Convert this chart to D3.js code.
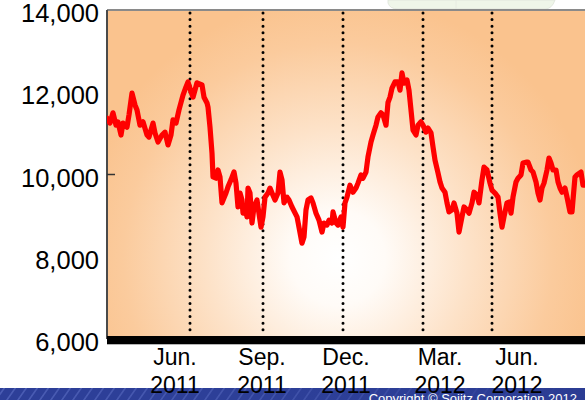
<!DOCTYPE html>
<html>
<head>
<meta charset="utf-8">
<script src="https://cdn.jsdelivr.net/npm/d3@7"></script>
<style>
  html, body { margin: 0; padding: 0; background: #ffffff; overflow: hidden; }
  svg { display: block; }
</style>
</head>
<body>
<svg id="chart" width="585" height="400"></svg>
<script>
// Daily closing index, trading-session number vs. level
const sessions = [
  0, 1.5, 3, 4.5, 5.5, 7, 8, 10, 11, 12.5, 14, 15, 16.5, 18, 20, 21, 23, 24, 25.5, 27.5,
  29, 30.5, 32, 33, 34.5, 36, 38, 39.5, 40.5, 42, 43, 45, 47.5, 48.5, 50, 50.5, 51.5, 52.5, 53, 54.5,
  55.5, 56.5, 57.5, 59.5, 60.5, 62, 63.5, 64.5, 65.5, 66.5, 67.5, 68, 69, 70, 70.5, 71.5, 72.5, 73.5, 75, 75.5,
  77, 78, 79, 80.5, 81.5, 82.5, 84, 85.5, 86.5, 87.5, 88.5, 90, 91, 92.5, 95, 96, 97.5, 98.5, 99.5, 100.5,
  102, 103, 104.5, 106, 107.5, 108.5, 110, 111, 112.5, 113, 114.5, 115.5, 117, 118, 119, 120, 121.5, 123, 124.5, 125.5,
  127, 128, 129.5, 130.5, 132, 133, 134.5, 135.5, 137, 138, 139.5, 140.5, 141.5, 142.5, 144, 145.5, 146.5, 147.5, 148.5, 150,
  151, 152, 153, 154.5, 155.5, 157, 158, 159.5, 160.5, 162, 163, 164, 165.5, 166.5, 167.5, 169, 170, 171, 172.5, 173.5,
  175, 176, 177.5, 178.5, 180, 181, 182.5, 183.5, 185, 186, 187.5, 188.5, 190, 191.5, 192.5, 194, 195.5, 196.5, 197.5, 198.5,
  200, 201, 202, 203, 204.5, 205.5, 207, 208, 209.5, 210.5, 212, 213, 214.5, 215.5, 216.5, 217.5, 218.5, 220, 221, 222,
  223, 224.5, 225.5, 226.5, 227.5, 229, 230, 231.5, 232.5, 233, 234, 235, 237, 238, 239, 241
];
const prices = [
  11370, 11250, 11500, 11200, 11280, 10960, 11250, 11150, 11450, 11980, 11690, 11570, 11200, 11280, 10960, 10910, 11250, 11010, 10790, 10960,
  11030, 10720, 10960, 11330, 11250, 11570, 11930, 12130, 12250, 12010, 11880, 12230, 12180, 11880, 11740, 11640, 11150, 10520, 9940, 9910,
  10110, 9940, 9310, 9550, 9700, 9870, 10060, 9790, 9210, 9550, 9380, 9060, 9210, 8970, 9670, 9550, 8820, 9210, 9380, 9210,
  8720, 8970, 9450, 9550, 9670, 9550, 9380, 9550, 10060, 9870, 9310, 9450, 9380, 9210, 8970, 8720, 8330, 8480, 9140, 9380,
  9430, 9310, 9060, 8890, 8600, 8820, 8770, 8890, 8820, 9090, 8820, 8770, 8970, 8720, 9310, 9450, 9740, 9570, 9670, 9790,
  9990, 9910, 10060, 10430, 10790, 10960, 11200, 11400, 11500, 11450, 11200, 11750, 11880, 12100, 12250, 12250, 12050, 12470, 12220, 12300,
  12050, 11570, 11080, 10960, 11200, 11280, 11200, 11030, 11130, 11010, 10670, 10350, 10040, 9820, 9670, 9570, 9310, 9090, 9140, 9310,
  9060, 8600, 8970, 9210, 9140, 9060, 9310, 9570, 9500, 9310, 9870, 10180, 10110, 9790, 9620, 9550, 9450, 9060, 8720, 8970,
  9310, 9330, 9060, 9450, 9820, 9910, 9990, 10280, 10300, 10300, 10110, 10060, 9820, 9550, 9380, 9670, 9790, 10110, 10400, 10280,
  10110, 10110, 9820, 9670, 9570, 9670, 9450, 9090, 9090, 9380, 9940, 9990, 10060, 9740, 9740, 9850
];

// Quarter boundaries (dotted guides) and the x-axis captions
const quarterSessions = [41.5, 78, 118, 158, 192.5];
const labelSessions = [34, 77.5, 119.5, 166.5, 205];
const monthLabels = ["Jun.", "Sep.", "Dec.", "Mar.", "Jun."];
const yearLabels = ["2011", "2011", "2011", "2012", "2012"];
const yTicks = [6000, 8000, 10000, 12000, 14000];

const svg = d3.select("#chart");
const W = 585, H = 400;
const plotLeft = 107, plotTop = 10, plotRight = 600, plotBottom = 339;

const x = d3.scaleLinear().domain([0, 240]).range([107, 587]);
const y = d3.scaleLinear().domain([6000, 14000]).range([plotBottom, plotTop]);

const defs = svg.append("defs");

// Soft white-to-apricot glow behind the plot
const glow = defs.append("radialGradient")
  .attr("id", "glow")
  .attr("gradientUnits", "userSpaceOnUse")
  .attr("cx", 338).attr("cy", 258).attr("r", 262);
[[0, "#ffffff"], [0.18, "#fffbf7"], [0.5, "#fde2c8"], [0.82, "#fbcb9d"], [1, "#fac38e"]]
  .forEach(([o, c]) => glow.append("stop").attr("offset", o).attr("stop-color", c));

// Diagonal hatch for the footer band
const hatch = defs.append("pattern")
  .attr("id", "hatch")
  .attr("patternUnits", "userSpaceOnUse")
  .attr("width", 11).attr("height", 12)
  .attr("patternTransform", "skewX(-35)");
hatch.append("rect").attr("width", 11).attr("height", 12).attr("fill", "#2d3f98");
hatch.append("rect").attr("x", 0).attr("width", 2).attr("height", 12).attr("fill", "#4a5cb3");

const footerFade = defs.append("linearGradient").attr("id", "footerFade");
footerFade.append("stop").attr("offset", 0).attr("stop-color", "#2d3f98").attr("stop-opacity", 0);
footerFade.append("stop").attr("offset", 0.45).attr("stop-color", "#2d3f98").attr("stop-opacity", 0.3);
footerFade.append("stop").attr("offset", 1).attr("stop-color", "#2b3c93").attr("stop-opacity", 1);

defs.append("clipPath").attr("id", "plotClip")
  .append("rect").attr("x", plotLeft).attr("y", plotTop)
  .attr("width", plotRight - plotLeft).attr("height", plotBottom - plotTop);

// Decorative tab peeking above the plot
const tab = svg.append("g").attr("opacity", 0.6);
tab.append("path")
  .attr("d", "M388,0 L388,3 Q390,9 398,9 L545,9 Q552,9 555,0 Z")
  .attr("fill", "#e6f1dc").attr("stroke", "#c9d2c2").attr("stroke-width", 0.8);
tab.append("line").attr("x1", 456).attr("x2", 456).attr("y1", 0).attr("y2", 9)
  .attr("stroke", "#d3dbcc").attr("stroke-width", 0.8);

// Plot background
svg.append("rect")
  .attr("x", plotLeft).attr("y", plotTop)
  .attr("width", plotRight - plotLeft).attr("height", plotBottom - plotTop)
  .attr("fill", "url(#glow)");

// Frame: top and left borders
svg.append("line").attr("x1", plotLeft).attr("x2", plotRight).attr("y1", plotTop).attr("y2", plotTop)
  .attr("stroke", "#8a8a8a").attr("stroke-width", 2);
svg.append("line").attr("x1", plotLeft).attr("x2", plotLeft).attr("y1", plotTop).attr("y2", plotBottom)
  .attr("stroke", "#4a4a4a").attr("stroke-width", 2);

// Dotted quarter guides
svg.append("g").selectAll("line").data(quarterSessions).join("line")
  .attr("x1", d => x(d)).attr("x2", d => x(d))
  .attr("y1", plotTop + 3).attr("y2", plotBottom - 4)
  .attr("stroke", "#000").attr("stroke-width", 3)
  .attr("stroke-linecap", "round")
  .attr("stroke-dasharray", "0 6.6");

// Price line
const pts = sessions.map((s, i) => [s, prices[i]]);
svg.append("path")
  .datum(pts)
  .attr("clip-path", "url(#plotClip)")
  .attr("fill", "none")
  .attr("stroke", "#ff0000")
  .attr("stroke-width", 5.2)
  .attr("stroke-linejoin", "round")
  .attr("stroke-linecap", "round")
  .attr("d", d3.line().x(d => x(d[0])).y(d => y(d[1])));

// Y axis labels
const yAxis = svg.append("g")
  .attr("transform", `translate(${plotLeft},0)`)
  .call(d3.axisLeft(y).tickValues(yTicks).tickFormat(d3.format(",")).tickSize(0).tickPadding(8));
yAxis.select(".domain").remove();
yAxis.selectAll("text")
  .attr("font-family", "Liberation Sans, Arial, sans-serif")
  .attr("font-size", 25.5)
  .attr("fill", "#000")
  .attr("dy", "0.46em");
// single inward tick at 10,000
svg.append("line")
  .attr("x1", plotLeft).attr("x2", plotLeft + 8)
  .attr("y1", y(10000)).attr("y2", y(10000))
  .attr("stroke", "#333").attr("stroke-width", 1.5);

// Heavy baseline at 6,000
svg.append("line").attr("x1", plotLeft).attr("x2", plotRight)
  .attr("y1", plotBottom + 1).attr("y2", plotBottom + 1)
  .attr("stroke", "#000").attr("stroke-width", 8);
svg.append("line").attr("x1", plotLeft).attr("x2", plotRight)
  .attr("y1", plotBottom + 5.5).attr("y2", plotBottom + 5.5)
  .attr("stroke", "#b5b5b5").attr("stroke-width", 1);

// Footer band
svg.append("rect").attr("x", 0).attr("y", 388).attr("width", W).attr("height", 12).attr("fill", "url(#hatch)");
svg.append("rect").attr("x", 0).attr("y", 388).attr("width", W).attr("height", 12).attr("fill", "url(#footerFade)");
svg.append("text")
  .attr("x", 577).attr("y", 402.5)
  .attr("text-anchor", "end")
  .attr("font-family", "Liberation Sans, Arial, sans-serif")
  .attr("font-size", 13)
  .attr("fill", "#ffffff")
  .text("Copyright \u00a9 Sojitz Corporation 2012");

// X axis captions (month / year)
const xl = svg.append("g").selectAll("text").data(labelSessions).join("text")
  .attr("x", d => x(d))
  .attr("text-anchor", "middle")
  .attr("font-family", "Liberation Sans, Arial, sans-serif")
  .attr("font-size", 23)
  .attr("fill", "#000");
xl.append("tspan").attr("x", d => x(d)).attr("y", 365).text((d, i) => monthLabels[i]);
xl.append("tspan").attr("x", d => x(d)).attr("y", 393).text((d, i) => yearLabels[i]);
</script>
</body>
</html>
